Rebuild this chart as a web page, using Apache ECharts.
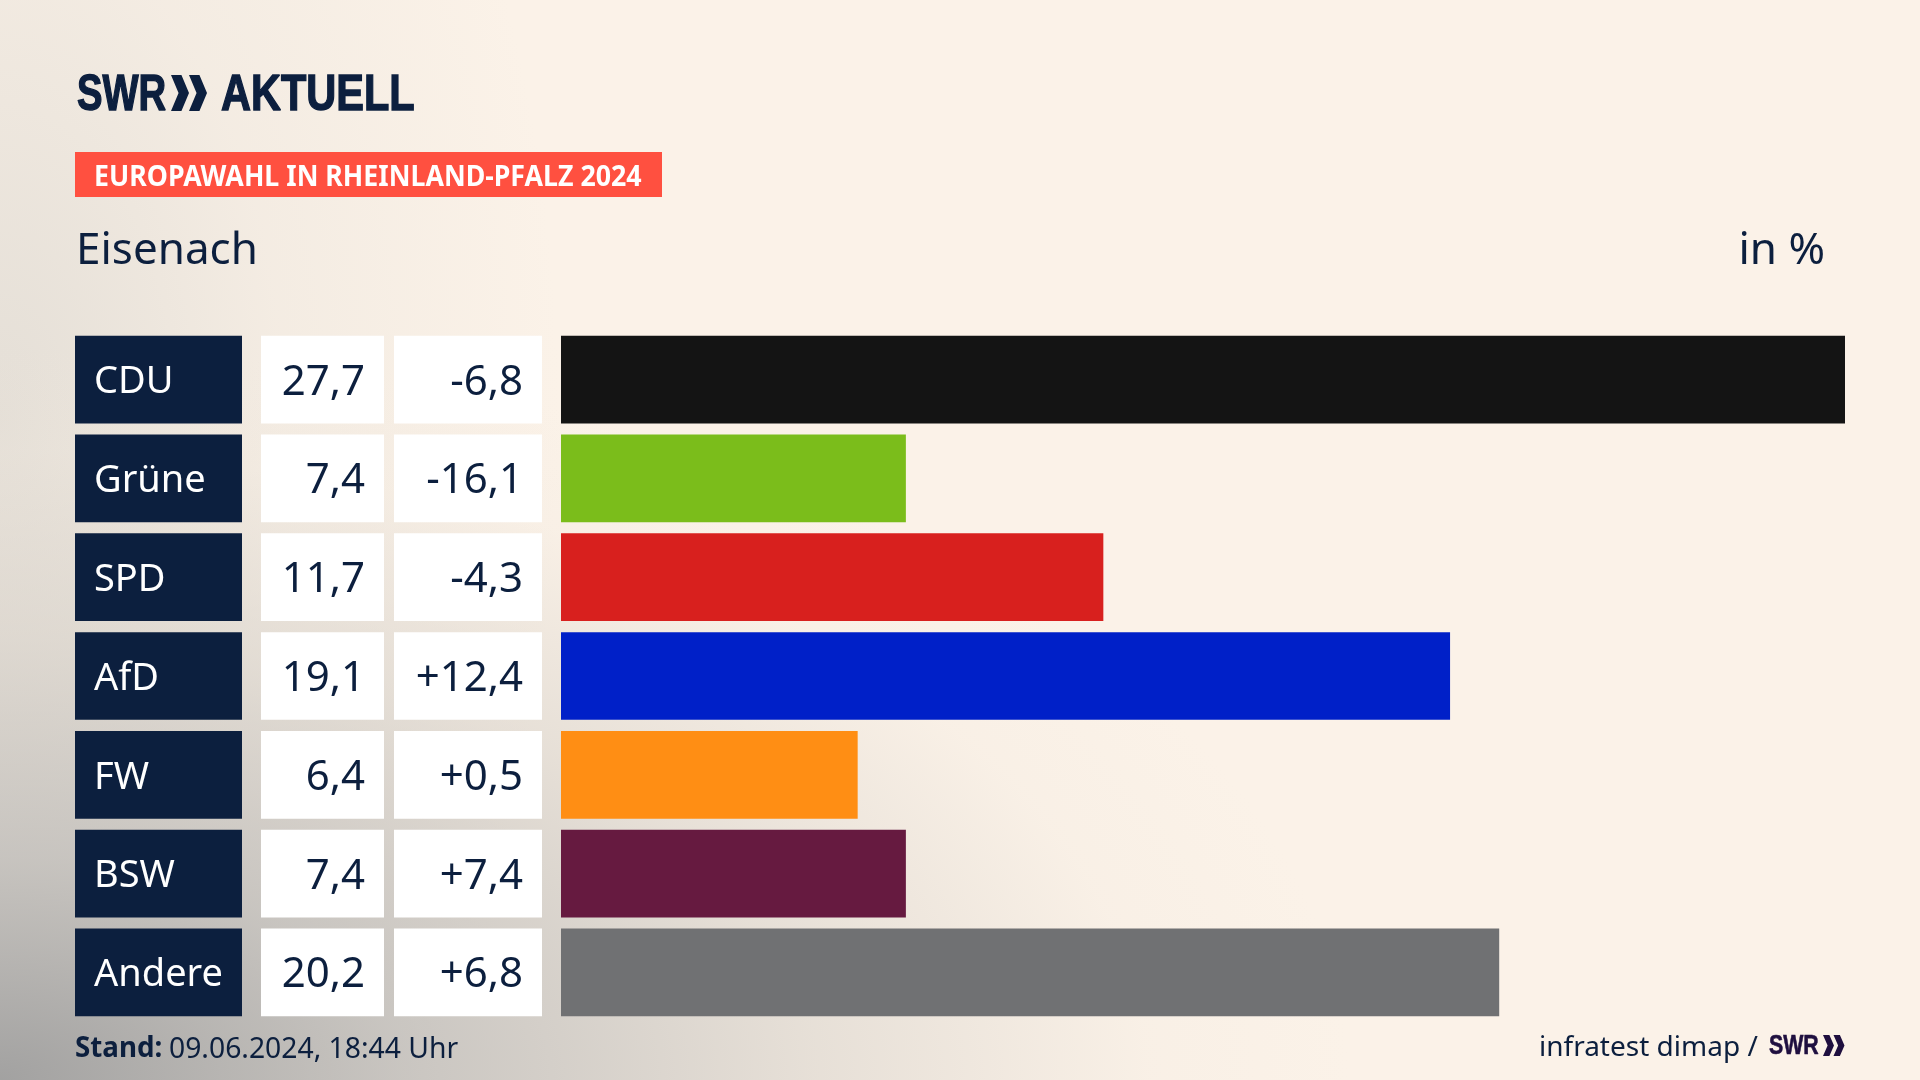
<!DOCTYPE html>
<html><head><meta charset="utf-8">
<script src="https://cdn.jsdelivr.net/npm/echarts@6/dist/echarts.min.js"></script>
<style>
html,body{margin:0;padding:0;width:1920px;height:1080px;overflow:hidden;background:#FBF2E8}
#bg{position:absolute;left:0;top:0;width:1920px;height:1080px;background:
radial-gradient(ellipse 1350px 740px at 0px 1080px, rgba(155,155,155,.92) 0%, rgba(185,183,180,.75) 30%, rgba(210,205,198,.5) 60%, rgba(238,230,220,.18) 85%, rgba(250,241,230,0) 100%),
radial-gradient(ellipse 560px 1000px at 0px 420px, rgba(205,203,197,.5) 0%, rgba(225,220,212,.28) 50%, rgba(250,241,230,0) 100%),
#FBF2E8}
#c{position:absolute;left:0;top:0;width:1920px;height:1080px}
</style></head><body><div id="bg"></div><div id="c"></div>
<script>
const parties = ['CDU','Grüne','SPD','AfD','FW','BSW','Andere'];
const shares  = [27.7,7.4,11.7,19.1,6.4,7.4,20.2];
const barLengths = [27.7,7.44,11.7,19.18,6.4,7.44,20.24];
const changes = [-6.8,-16.1,-4.3,12.4,0.5,7.4,6.8];
const colors  = ['#141414','#7BBD1B','#D8201E','#0020C8','#FF8E14','#661A40','#707173'];
const title='Eisenach', unit='in %', banner='EUROPAWAHL IN RHEINLAND-PFALZ 2024';
const stand='Stand:', standDate='09.06.2024, 18:44 Uhr', source='infratest dimap /';

const NAVY='#0C1F3E', DARK='#1F0F3F', FONT='"Noto Sans"', LOGO='"Liberation Sans"';
const de=(v)=>v.toFixed(1).replace('.',',');
const sign=v=>(v>0?'+':'')+de(v);
const gridTop=330.2,gridH=691.6,BAR=87.7;
const columns=[[75,167],[261,123],[394,148],[561,1284]];
const grids=columns.map(c=>({left:c[0],width:c[1],top:gridTop,height:gridH}));
const xAxes=columns.map((c,i)=>({gridIndex:i,type:'value',min:0,max:i==3?27.7:1,show:false}));
const yAxes=columns.map((c,i)=>({gridIndex:i,type:'category',inverse:true,data:parties,show:false}));
const cell=(i,color,vals,label)=>({type:'bar',xAxisIndex:i,yAxisIndex:i,barWidth:BAR,silent:true,animation:false,
  itemStyle:{color},data:vals,label});
const txt=(position,distance,color,size,fmt)=>({show:true,position,distance,offset:[0,3],color,fontFamily:FONT,fontSize:size,formatter:fmt});
const chev=(x,y,h,w,color)=>{
  const t=w*0.58;
  return {type:'polygon',shape:{points:[[x,y],[x+t,y],[x+w,y+h/2],[x+t,y+h],[x,y+h],[x+w-t,y+h/2]]},style:{fill:color}};
};
const logoText=(text,x,y,size,sx,color,lw)=>({type:'text',x,y,scaleX:sx,style:{text,fill:color,stroke:color,lineWidth:lw,font:'bold '+size+'px '+LOGO,verticalAlign:'middle'}});
const chart=echarts.init(document.getElementById('c'),null,{renderer:'canvas',width:1920,height:1080});
chart.setOption({
  backgroundColor:'transparent',animation:false,
  grid:grids,xAxis:xAxes,yAxis:yAxes,
  series:[
    cell(0,NAVY,parties.map(()=>1),txt('insideLeft',19,'#fff',38,p=>parties[p.dataIndex])),
    cell(1,'#fff',shares.map(()=>1),txt('insideRight',19,NAVY,42,p=>de(shares[p.dataIndex]))),
    cell(2,'#fff',changes.map(()=>1),txt('insideRight',19,NAVY,42,p=>sign(changes[p.dataIndex]))),
    {type:'bar',xAxisIndex:3,yAxisIndex:3,barWidth:BAR,silent:true,animation:false,
     data:barLengths.map((v,i)=>({value:v,itemStyle:{color:colors[i]}}))}
  ],
  graphic:[
    logoText('SWR',77,96,50,0.765,NAVY,1.4),
    chev(171,75,36,18,NAVY),chev(189,75,36,18,NAVY),
    logoText('AKTUELL',221,96,50,0.83,NAVY,1.4),
    {type:'rect',shape:{x:75,y:152,width:587,height:45},style:{fill:'#FF5040'}},
    {type:'text',x:94,y:178,scaleX:0.955,style:{text:banner,fill:'#fff',font:'bold 28px '+FONT,verticalAlign:'middle'}},
    {type:'text',x:76,y:251.5,style:{text:title,fill:NAVY,font:'44px '+FONT,verticalAlign:'middle'}},
    {type:'text',x:1825,y:251.5,style:{text:unit,fill:NAVY,font:'44px '+FONT,verticalAlign:'middle',align:'right'}},
    {type:'text',x:75,y:1049.5,scaleX:0.99,style:{text:stand,fill:NAVY,font:'bold 28px '+FONT,verticalAlign:'middle'}},
    {type:'text',x:169,y:1049.5,style:{text:standDate,fill:NAVY,font:'28.3px '+FONT,verticalAlign:'middle'}},
    {type:'text',x:1539,y:1048,style:{text:source,fill:NAVY,font:'28px '+FONT,verticalAlign:'middle'}},
    logoText('SWR',1769,1047,27,0.79,DARK,0.6),
    chev(1823,1035,21,11,DARK),chev(1833.5,1035,21,11,DARK)
  ]
});
</script></body></html>
